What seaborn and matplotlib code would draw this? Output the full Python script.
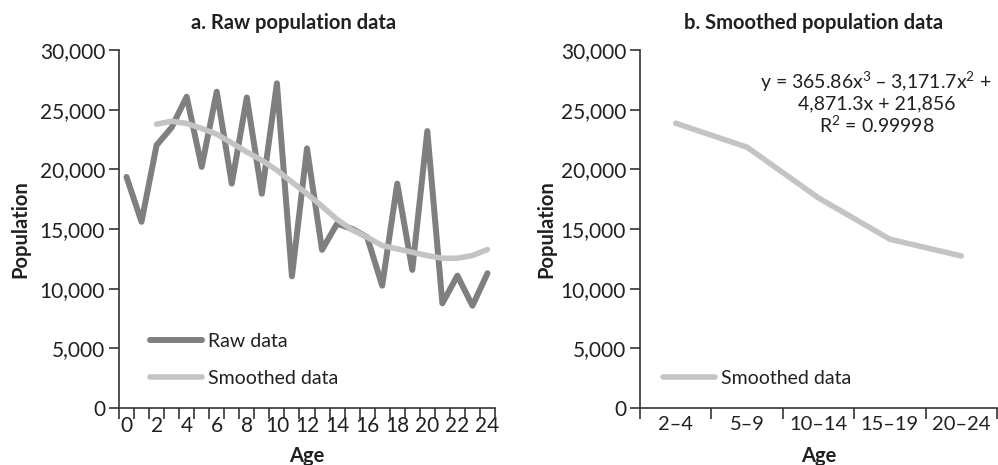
import matplotlib
matplotlib.use("Agg")
import matplotlib.pyplot as plt
from matplotlib.ticker import FuncFormatter, FixedLocator
import seaborn as sns
import pandas as pd
import numpy as np

# --- data ---
ages = list(range(0, 25))
raw_pop = [19360, 15600, 22020, 23500, 26080, 20200, 26500, 18800, 26020, 17950,
           27200, 11030, 21750, 13250, 15440, 15010, 14310, 10250, 18800, 11570,
           23200, 8770, 11090, 8570, 11290]
smooth_ages = list(range(2, 25))
smooth_pop = [23780, 24030, 23840, 23420, 22940, 22210, 21450, 20760, 19920, 18930,
              17950, 16900, 15800, 14930, 14310, 13610, 13330, 13050, 12770, 12550,
              12550, 12770, 13280]
age_groups = ["2–4", "5–9", "10–14", "15–19", "20–24"]
group_pop = [23860, 21850, 17600, 14140, 12740]

raw_color = "#7f7f7f"
smooth_color = "#c4c4c4"
text_color = "#231f20"
fs = 15

sns.set_style("ticks")
plt.rcParams["font.family"] = ["Lato", "DejaVu Sans"]
plt.rcParams["font.size"] = fs
plt.rcParams["mathtext.default"] = "regular"

raw_df = pd.DataFrame({"Age": ages, "Population": raw_pop})
smooth_df = pd.DataFrame({"Age": smooth_ages, "Population": smooth_pop})
group_df = pd.DataFrame({"Age": age_groups, "Population": group_pop})

fig = plt.figure(figsize=(9.98, 4.65), dpi=100)
ax1 = fig.add_axes([0.1192, 0.1226, 0.3768, 0.77])
ax2 = fig.add_axes([0.6413, 0.1226, 0.3577, 0.77])

thousands = FuncFormatter(lambda v, p: f"{int(v):,}")


def style_axis(ax, xsize):
    sns.despine(ax=ax)
    for s in ["left", "bottom"]:
        ax.spines[s].set_color("#333333")
        ax.spines[s].set_linewidth(1.2)
    ax.set_ylim(0, 30000)
    ax.set_yticks(range(0, 30001, 5000))
    ax.yaxis.set_major_formatter(thousands)
    ax.tick_params(axis="y", length=7, width=1.2, color="#333333",
                   labelsize=fs, labelcolor=text_color, pad=3)
    ax.tick_params(axis="x", which="major", length=0, labelsize=xsize,
                   labelcolor=text_color, pad=6)
    ax.tick_params(axis="x", which="minor", length=8, width=1.2, color="#333333")
    ax.set_ylabel("Population", fontsize=fs - 0.5, fontweight="bold", color=text_color)
    ax.set_xlabel("Age", fontsize=fs - 0.5, fontweight="bold", color=text_color)


# --- a. raw population data ---
sns.lineplot(data=raw_df, x="Age", y="Population", ax=ax1, color=raw_color,
             linewidth=4.3, label="Raw data")
sns.lineplot(data=smooth_df, x="Age", y="Population", ax=ax1, color=smooth_color,
             linewidth=4.0, label="Smoothed data")
style_axis(ax1, fs)
ax1.set_xlim(-0.5, 24.5)
ax1.set_xticks(range(0, 25, 2))
ax1.xaxis.set_minor_locator(FixedLocator(np.arange(-0.5, 25, 1)))
ax1.text(0.463, 1.075, "a. Raw population data", transform=ax1.transAxes,
         ha="center", va="center", fontsize=fs - 0.5, fontweight="bold", color=text_color)
ax1.yaxis.set_label_coords(-0.235, 0.5)
ax1.xaxis.set_label_coords(0.5, -0.105)
ax1.legend(loc="lower left", bbox_to_anchor=(0.082, 0.06), frameon=False,
           handlelength=2.7, handletextpad=0.3, labelspacing=1.0, borderpad=0,
           borderaxespad=0, fontsize=14, labelcolor=text_color)

# --- b. smoothed population data ---
sns.lineplot(data=group_df, x="Age", y="Population", ax=ax2, color=smooth_color,
             linewidth=4.0, label="Smoothed data", sort=False)
style_axis(ax2, 14.5)
ax2.set_xlim(-0.5, 4.5)
ax2.set_xticks(range(len(age_groups)))
ax2.set_xticklabels(age_groups)
ax2.xaxis.set_minor_locator(FixedLocator(np.arange(-0.5, 5, 1)))
ax2.text(0.487, 1.075, "b. Smoothed population data", transform=ax2.transAxes,
         ha="center", va="center", fontsize=fs - 0.5, fontweight="bold", color=text_color)
ax2.yaxis.set_label_coords(-0.235, 0.5)
ax2.xaxis.set_label_coords(0.5, -0.105)
ax2.legend(loc="lower left", bbox_to_anchor=(0.064, 0.059), frameon=False,
           handlelength=2.7, handletextpad=0.3, borderpad=0, borderaxespad=0,
           fontsize=14, labelcolor=text_color)
ax2.text(0.662, 0.944, "y = 365.86x$^{3}$ – 3,171.7x$^{2}$ +\n4,871.3x + 21,856\nR$^{2}$ = 0.99998",
         transform=ax2.transAxes, ha="center", va="top", fontsize=14,
         linespacing=1.12, color=text_color)

fig.savefig("out.png", dpi=100)
